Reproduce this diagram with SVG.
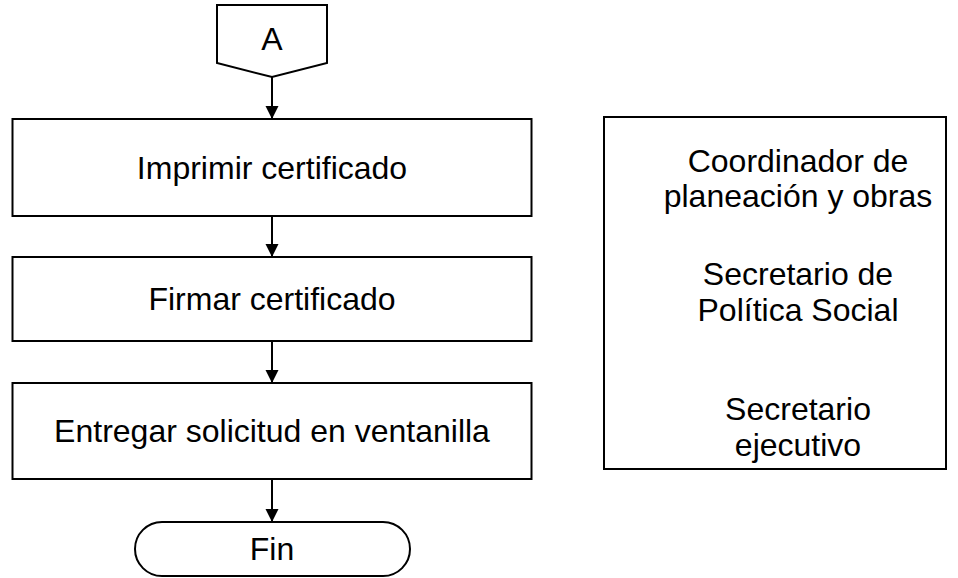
<svg xmlns="http://www.w3.org/2000/svg" width="958" height="578" viewBox="0 0 958 578">
<style>
.shape{fill:#fff;stroke:#000;stroke-width:2}
.lbl{font-family:"Liberation Sans",Arial,sans-serif;font-size:32px;fill:#000;text-anchor:middle}
.conn{stroke:#000;stroke-width:2;fill:none}
</style>
<defs>
<marker id="arr" markerUnits="userSpaceOnUse" markerWidth="14" markerHeight="14" viewBox="0 0 14 14" refX="13" refY="7" orient="auto">
<path d="M0,0.5 L13,7 L0,13.5 Z" fill="#000"/>
</marker>
</defs>
<rect width="958" height="578" fill="#fff"/>
<g id="connectors">
<line class="conn" x1="272" y1="77" x2="272" y2="119" marker-end="url(#arr)"/>
<line class="conn" x1="272" y1="216" x2="272" y2="257" marker-end="url(#arr)"/>
<line class="conn" x1="272" y1="341" x2="272" y2="383" marker-end="url(#arr)"/>
<line class="conn" x1="272" y1="479" x2="272" y2="522" marker-end="url(#arr)"/>
</g>
<g id="connectorA">
<polygon class="shape" points="217,5 327,5 327,63 272,77 217,63"/>
<text class="lbl" x="272" y="50">A</text>
</g>
<g id="imprimir">
<rect class="shape" x="12.5" y="119" width="519" height="97"/>
<text class="lbl" x="272" y="179">Imprimir certificado</text>
</g>
<g id="firmar">
<rect class="shape" x="12.5" y="257" width="519" height="84"/>
<text class="lbl" x="272" y="310">Firmar certificado</text>
</g>
<g id="entregar">
<rect class="shape" x="12.5" y="383" width="519" height="96"/>
<text class="lbl" x="272" y="442">Entregar solicitud en ventanilla</text>
</g>
<g id="fin">
<rect class="shape" x="135" y="522" width="275" height="54" rx="27" ry="27"/>
<text class="lbl" x="272" y="560">Fin</text>
</g>
<g id="responsables">
<rect class="shape" x="604" y="117" width="342" height="352"/>
<text class="lbl" x="798" y="172">Coordinador de</text>
<text class="lbl" x="798" y="207">planeación y obras</text>
<text class="lbl" x="798" y="285">Secretario de</text>
<text class="lbl" x="798" y="321">Política Social</text>
<text class="lbl" x="798" y="420">Secretario</text>
<text class="lbl" x="798" y="456">ejecutivo</text>
</g>
</svg>
